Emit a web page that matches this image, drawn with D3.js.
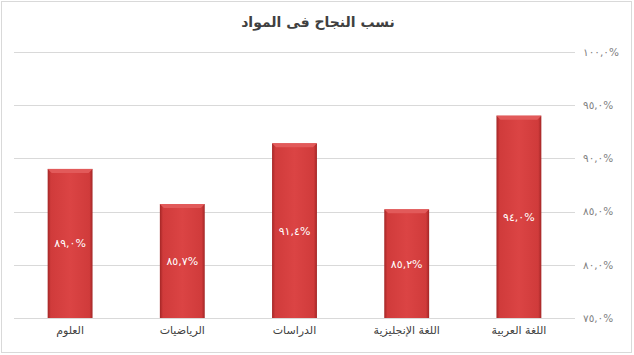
<!DOCTYPE html>
<html>
<head>
<meta charset="utf-8">
<script src="https://cdn.jsdelivr.net/npm/d3@7"></script>
<style>
  body { margin: 0; background: #fff; }
  text { font-family: "DejaVu Sans", sans-serif; }
</style>
</head>
<body>
<script>
// chart data (right to left, as in the original)
let categories = ['اللغة العربية', 'اللغة الإنجليزية', 'الدراسات', 'الرياضيات', 'العلوم'];
let values = [94.0, 85.2, 91.4, 85.7, 89.0];
let yTicks = [75, 80, 85, 90, 95, 100];
let title = 'نسب النجاح فى المواد';

let width = 634;
let height = 355;
let plot = { left: 14, right: 575, top: 51.75, bottom: 318 };

// western digits -> arabic-indic digits
let arDigits = '٠١٢٣٤٥٦٧٨٩';
let toArabic = s => s.replace(/[0-9]/g, d => arDigits[+d]).replace('.', ',');
let fmt = v => toArabic(v.toFixed(1)) + '%';

let svg = d3.select('body').append('svg')
    .attr('width', width)
    .attr('height', height);

// outer chart border
svg.append('rect')
    .attr('x', 1.5).attr('y', 1.5)
    .attr('width', width - 4).attr('height', height - 4)
    .attr('fill', '#fff')
    .attr('stroke', '#d9d9d9');

// bar gradient
let defs = svg.append('defs');
let grad = defs.append('linearGradient').attr('id', 'barGrad')
    .attr('x1', '0%').attr('x2', '100%').attr('y1', '0%').attr('y2', '0%');
[['0%', '#a32626'], ['7%', '#d03b3b'], ['50%', '#db4444'], ['93%', '#d03b3b'], ['100%', '#a32626']]
    .forEach(s => grad.append('stop').attr('offset', s[0]).attr('stop-color', s[1]));

let x = d3.scaleBand()
    .domain(categories)
    .range([plot.right, plot.left])
    .paddingInner(0.6)
    .paddingOuter(0.3);

let y = d3.scaleLinear()
    .domain([75, 100])
    .range([plot.bottom, plot.top]);

// gridlines
svg.append('g').selectAll('line')
    .data(yTicks)
    .enter().append('line')
    .attr('x1', plot.left).attr('x2', plot.right)
    .attr('y1', d => Math.round(y(d)) + 0.5)
    .attr('y2', d => Math.round(y(d)) + 0.5)
    .attr('stroke', '#d9d9d9');

// right side axis labels
let yAxis = d3.axisRight(y)
    .tickValues(yTicks)
    .tickSize(0)
    .tickPadding(0)
    .tickFormat(fmt);

svg.append('g')
    .attr('transform', 'translate(' + (plot.right + 8) + ',0)')
    .call(yAxis)
    .call(g => g.select('.domain').remove())
    .selectAll('text')
    .attr('fill', '#7f7f7f')
    .style('font-size', '10.5px');

// bars
let bars = svg.append('g').selectAll('g')
    .data(values)
    .enter().append('g');

bars.append('rect')
    .attr('x', (d, i) => x(categories[i]))
    .attr('y', d => y(d))
    .attr('width', x.bandwidth())
    .attr('height', d => y(75) - y(d))
    .attr('fill', 'url(#barGrad)');

// top bevel highlight
bars.append('path')
    .attr('d', (d, i) => {
        let x0 = x(categories[i]), x1 = x0 + x.bandwidth(), t = y(d);
        return 'M' + x0 + ',' + t + 'L' + x1 + ',' + t + 'L' + (x1 - 4) + ',' + (t + 4) + 'L' + (x0 + 4) + ',' + (t + 4) + 'Z';
    })
    .attr('fill', '#e25a5a');

// value labels inside bars
bars.append('text')
    .attr('x', (d, i) => x(categories[i]) + x.bandwidth() / 2)
    .attr('y', d => (y(d) + y(75)) / 2)
    .attr('dy', '0.35em')
    .attr('text-anchor', 'middle')
    .attr('fill', '#fff')
    .style('font-size', '11px')
    .text(d => fmt(d));

// category labels
svg.append('g').selectAll('text')
    .data(categories)
    .enter().append('text')
    .attr('x', d => x(d) + x.bandwidth() / 2)
    .attr('y', 334)
    .attr('text-anchor', 'middle')
    .attr('fill', '#404040')
    .style('font-size', '11px')
    .text(d => d);

// title
svg.append('text')
    .attr('x', 318)
    .attr('y', 27)
    .attr('text-anchor', 'middle')
    .attr('fill', '#404040')
    .style('font-size', '14px')
    .style('font-weight', 'bold')
    .text(title);
</script>
</body>
</html>
